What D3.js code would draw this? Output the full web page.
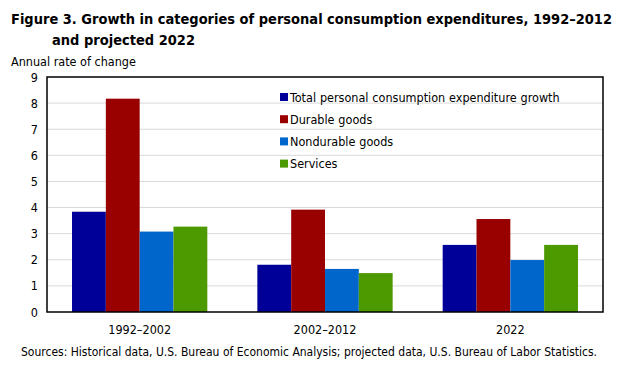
<!DOCTYPE html>
<html>
<head>
<meta charset="utf-8">
<script src="https://cdn.jsdelivr.net/npm/d3@7"></script>
<style>
  body { margin: 0; background: #fff; }
  text { font-family: "DejaVu Sans Condensed", "DejaVu Sans", sans-serif; fill: #000; }
  .title { font-weight: bold; font-size: 14.3px; }
</style>
</head>
<body>
<svg width="626" height="368"></svg>
<script>
const periods = ['1992\u20132002', '2002\u20132012', '2022'];
const seriesNames = ['Total personal consumption expenditure growth', 'Durable goods', 'Nondurable goods', 'Services'];
const seriesColors = ['#000099', '#990000', '#0066cc', '#4d9900'];
const totalGrowth = [3.84, 1.81, 2.57];
const durableGoods = [8.17, 3.92, 3.56];
const nondurableGoods = [3.08, 1.65, 1.99];
const services = [3.27, 1.49, 2.57];
const yTicks = [0, 1, 2, 3, 4, 5, 6, 7, 8, 9];

const seriesValues = [totalGrowth, durableGoods, nondurableGoods, services];

const svg = d3.select('svg');
const margin = {left: 47, right: 23, top: 77, bottom: 56};
const width = 626 - margin.left - margin.right,
    height = 368 - margin.top - margin.bottom;

svg.append('text').attr('class', 'title').attr('x', 11).attr('y', 24)
    .attr('textLength', 601).attr('lengthAdjust', 'spacingAndGlyphs')
    .text('Figure 3. Growth in categories of personal consumption expenditures, 1992\u20132012');
svg.append('text').attr('class', 'title').attr('x', 52).attr('y', 45)
    .attr('textLength', 143).attr('lengthAdjust', 'spacingAndGlyphs')
    .text('and projected 2022');
svg.append('text').attr('x', 11).attr('y', 66).style('font-size', '12.5px')
    .text('Annual rate of change');

const g = svg.append('g').attr('transform', `translate(${margin.left},${margin.top})`);

const x0 = d3.scaleBand().domain(periods).range([0, width]).paddingInner(0.27).paddingOuter(0.135);
const x1 = d3.scaleBand().domain(d3.range(seriesNames.length)).range([0, x0.bandwidth()]);
const y = d3.scaleLinear().domain([0, 9]).range([height, 0]);

// gridlines
g.append('g')
    .selectAll('line')
    .data(yTicks.slice(1, -1))
    .enter()
    .append('line')
    .attr('x1', 0).attr('x2', width)
    .attr('y1', d => y(d)).attr('y2', d => y(d))
    .attr('stroke', '#d9d9d9').attr('stroke-width', 1);

// bars
const groups = g.append('g')
    .selectAll('g')
    .data(periods)
    .enter()
    .append('g')
    .attr('transform', d => `translate(${x0(d)},0)`);

groups.selectAll('rect')
    .data((p, i) => seriesValues.map((s, k) => ({k: k, v: s[i]})))
    .enter()
    .append('rect')
    .attr('x', d => x1(d.k))
    .attr('width', x1.bandwidth())
    .attr('y', d => y(d.v))
    .attr('height', d => y(0) - y(d.v))
    .attr('fill', d => seriesColors[d.k]);

// frame
g.append('rect')
    .attr('width', width).attr('height', height)
    .attr('fill', 'none').attr('stroke', '#000').attr('stroke-width', 1.5);

// y axis
const yAxis = g.append('g')
    .call(d3.axisLeft(y).tickValues(yTicks).tickSize(0).tickPadding(9));
yAxis.select('.domain').remove();
yAxis.selectAll('text').style('font-size', '12.5px').attr('fill', '#000');

// x axis
const xAxis = g.append('g')
    .attr('transform', `translate(0,${height})`)
    .call(d3.axisBottom(x0).tickSize(0).tickPadding(13));
xAxis.select('.domain').remove();
xAxis.selectAll('text').style('font-size', '12.5px').attr('fill', '#000');

// legend
const legend = svg.append('g')
    .attr('transform', 'translate(280,97)')
    .selectAll('g')
    .data(seriesNames)
    .enter()
    .append('g')
    .attr('transform', (d, i) => `translate(0,${i * 22.2})`);

legend.append('rect')
    .attr('x', 0).attr('y', -4).attr('width', 8).attr('height', 8)
    .attr('fill', (d, i) => seriesColors[i]);

legend.append('text')
    .attr('x', 10).attr('y', 4.5)
    .style('font-size', '12.5px')
    .style('word-spacing', '0.3px')
    .text(d => d);

svg.append('text')
    .attr('x', 21).attr('y', 356)
    .attr('textLength', 576).attr('lengthAdjust', 'spacingAndGlyphs')
    .style('font-size', '11.5px')
    .text('Sources: Historical  data, U.S. Bureau of Economic Analysis; projected  data, U.S. Bureau of Labor Statistics.');
</script>
</body>
</html>
